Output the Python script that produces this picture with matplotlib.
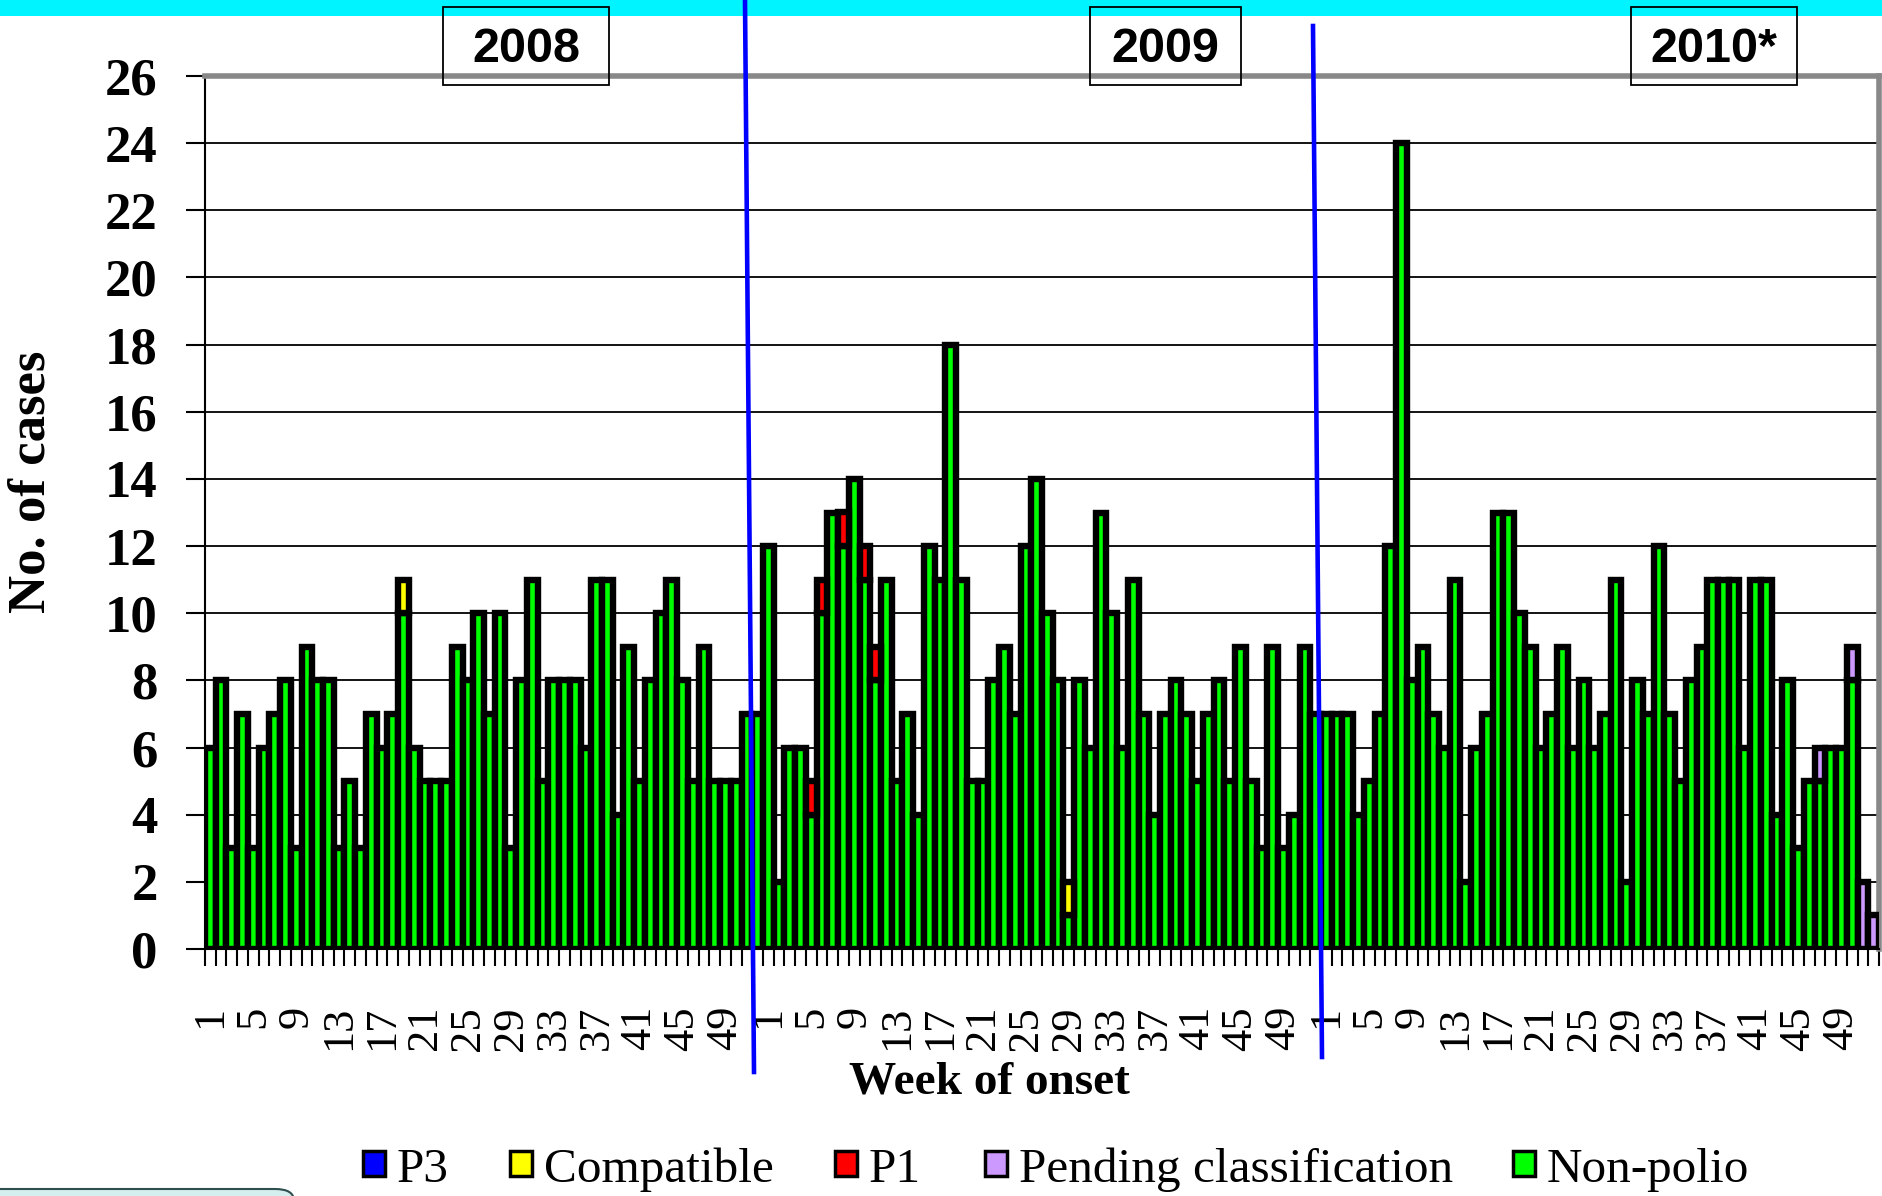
import numpy as np
import matplotlib
matplotlib.use('Agg')
import matplotlib.pyplot as plt
from matplotlib.patches import Rectangle, FancyBboxPatch
from matplotlib.lines import Line2D

# ---- data (cases per week of onset) ----
years = ['2008', '2009', '2010*']
n_weeks = 52

nonpolio_2008 = [6, 8, 3, 7, 3, 6, 7, 8, 3, 9, 8, 8, 3, 5, 3, 7, 6, 7, 10, 6,
                 5, 5, 5, 9, 8, 10, 7, 10, 3, 8, 11, 5, 8, 8, 8, 6, 11, 11, 4, 9,
                 5, 8, 10, 11, 8, 5, 9, 5, 5, 5, 7, 7]
nonpolio_2009 = [12, 2, 6, 6, 4, 10, 13, 12, 14, 11, 8, 11, 5, 7, 4, 12, 11, 18, 11, 5,
                 5, 8, 9, 7, 12, 14, 10, 8, 1, 8, 6, 13, 10, 6, 11, 7, 4, 7, 8, 7,
                 5, 7, 8, 5, 9, 5, 3, 9, 3, 4, 9, 7]
nonpolio_2010 = [7, 7, 7, 4, 5, 7, 12, 24, 8, 9, 7, 6, 11, 2, 6, 7, 13, 13, 10, 9,
                 6, 7, 9, 6, 8, 6, 7, 11, 2, 8, 7, 12, 7, 5, 8, 9, 11, 11, 11, 6,
                 11, 11, 4, 8, 3, 5, 5, 6, 6, 8, 0, 0]

# other classes: (year, week, cases)
compatible_cases = [('2008', 19, 1), ('2009', 29, 1)]
p1_cases = [('2009', 5, 1), ('2009', 6, 1), ('2009', 8, 1),
            ('2009', 10, 1), ('2009', 11, 1)]
pending_cases = [('2010*', 47, 1), ('2010*', 50, 1), ('2010*', 51, 2), ('2010*', 52, 1)]
p3_cases = []

label_weeks = list(range(1, 50, 4))

series = [
    ('Non-polio', '#00FF00'),
    ('Pending classification', '#CC99FF'),
    ('P1', '#FF0000'),
    ('Compatible', '#FFFF00'),
    ('P3', '#0000FF'),
]
legend_order = ['P3', 'Compatible', 'P1', 'Pending classification', 'Non-polio']


def to_array(cases):
    arr = np.zeros(n_weeks * len(years))
    for yr, wk, c in cases:
        arr[years.index(yr) * n_weeks + wk - 1] += c
    return arr


values = {
    'Non-polio': np.array(nonpolio_2008 + nonpolio_2009 + nonpolio_2010, dtype=float),
    'Pending classification': to_array(pending_cases),
    'P1': to_array(p1_cases),
    'Compatible': to_array(compatible_cases),
    'P3': to_array(p3_cases),
}
colors = dict(series)

# ---- figure ----
W, H = 1883, 1196
fig = plt.figure(figsize=(W / 100, H / 100), dpi=100)
fig.patch.set_facecolor('white')


def fx(px):
    return px / W


def fy(py):
    return 1 - py / H


serif = ['Liberation Serif', 'DejaVu Serif']
sans = ['Liberation Sans', 'DejaVu Sans']

# cyan band at the top
fig.patches.append(Rectangle((0, fy(16)), 1, 16 / H, transform=fig.transFigure,
                             facecolor='#00F4FF', edgecolor='none', zorder=0))

ax = fig.add_axes([fx(205), fy(949), fx(1879) - fx(205), fy(76) - fy(949)])

x = np.arange(n_weeks * len(years))
bottom = np.zeros_like(x, dtype=float)
for name, col in series:
    v = values[name]
    m = v > 0
    ax.bar(x[m], v[m], bottom=bottom[m], width=1.0, color=col,
           edgecolor='black', linewidth=4.6, zorder=3)
    bottom += v

ax.set_xlim(-0.5, len(x) - 0.5)
ax.set_ylim(0, 26)
ax.set_yticks(range(0, 27, 2))
ax.set_yticklabels([str(v) for v in range(0, 27, 2)],
                   fontfamily=serif, fontweight='bold', fontsize=38)
ax.yaxis.grid(True, color='black', linewidth=1.3, zorder=0)
ax.set_axisbelow(True)
ax.tick_params(axis='y', length=14, width=1.5, pad=20, direction='out')

pos, labs = [], []
for i in range(len(years)):
    for w in label_weeks:
        pos.append(i * n_weeks + w - 1)
        labs.append(str(w))
ax.set_xticks(pos)
ax.set_xticklabels(labs, rotation=90, fontfamily=serif, fontsize=32)
ax.set_xticks(np.arange(len(x) + 1) - 0.5, minor=True)
ax.tick_params(axis='x', which='major', length=0, pad=41)
ax.tick_params(axis='x', which='minor', length=12, width=1.5, direction='out')

for s in ['top', 'right']:
    ax.spines[s].set_color('#888888')
    ax.spines[s].set_linewidth(4)
ax.spines['left'].set_linewidth(1.5)
ax.spines['bottom'].set_linewidth(1.5)

fig.text(fx(32), fy(482), 'No. of cases', rotation=90, ha='center', va='center',
         fontfamily=serif, fontweight='bold', fontsize=38)
fig.text(fx(989), fy(1082), 'Week of onset', ha='center', va='center',
         fontfamily=serif, fontweight='bold', fontsize=34)

# year boxes
year_boxes = {'2008': (443, 609), '2009': (1090, 1241), '2010*': (1631, 1797)}
for yr, (x0, x1) in year_boxes.items():
    fig.patches.append(Rectangle((fx(x0), fy(85)), (x1 - x0) / W, 78 / H,
                                 transform=fig.transFigure, facecolor='none',
                                 edgecolor='black', linewidth=1.3, zorder=5))
    fig.text(fx((x0 + x1) / 2), fy(50), yr, ha='center', va='center',
             fontfamily=sans, fontweight='bold', fontsize=35, zorder=6)

# blue year separators
for (xa, ya), (xb, yb) in [((745, 0), (754, 1072)), ((1313, 26), (1322, 1057))]:
    fig.lines.append(Line2D([fx(xa), fx(xb)], [fy(ya), fy(yb)],
                            transform=fig.transFigure, color='#0000FF',
                            linewidth=3.3, zorder=10))

# legend
leg_sq = {'P3': 363, 'Compatible': 510, 'P1': 835,
          'Pending classification': 985, 'Non-polio': 1513}
for name in legend_order:
    x0 = leg_sq[name]
    fig.patches.append(Rectangle((fx(x0), fy(1176)), 22 / W, 25 / H,
                                 transform=fig.transFigure, facecolor=colors[name],
                                 edgecolor='black', linewidth=2.5, zorder=5))
    fig.text(fx(x0 + 34), fy(1170), name, ha='left', va='center',
             fontfamily=serif, fontsize=35.5)

# partial rounded box at bottom-left
fig.patches.append(FancyBboxPatch((fx(-20), fy(1215)), fx(314), 26 / H,
                                  boxstyle='round,pad=0,rounding_size=0.01',
                                  transform=fig.transFigure, facecolor='#D5EEEE',
                                  edgecolor='#2F4F4F', linewidth=1.5, zorder=4))

fig.savefig('out.png', dpi=100)
